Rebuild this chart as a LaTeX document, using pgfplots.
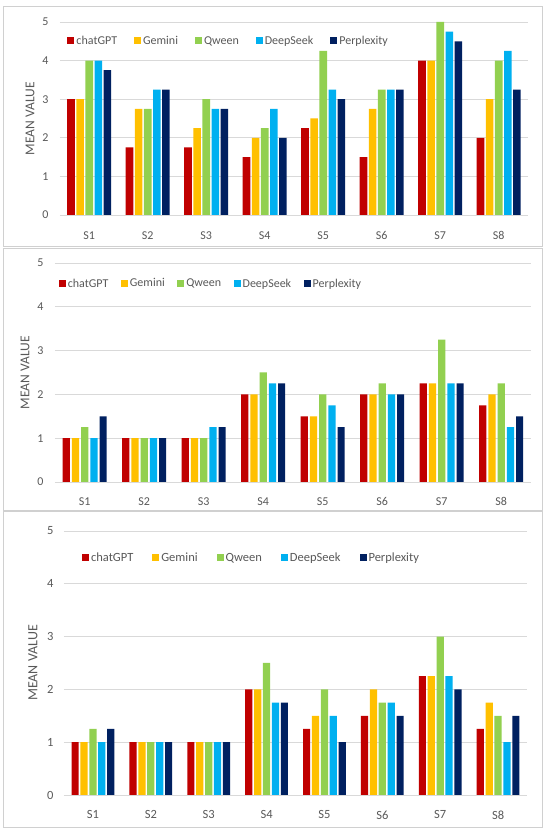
\documentclass[border=0pt]{standalone}
\usepackage{pgfplots}
\pgfplotsset{compat=1.18}
\usepackage{fontspec}
\setmainfont{Carlito}
\definecolor{cgpt}{HTML}{C00000}
\definecolor{cgem}{HTML}{FFC000}
\definecolor{cqw}{HTML}{92D050}
\definecolor{cds}{HTML}{00B0F0}
\definecolor{cpx}{HTML}{002060}
\definecolor{txt}{HTML}{595959}
\definecolor{grd}{HTML}{D9D9D9}
\definecolor{brd}{HTML}{D0D0D0}
\pgfplotsset{
  sqleg/.style={legend image code/.code={\fill[##1] (0pt,-3.5pt) rectangle (7pt,3.5pt);}},
  panel/.style={
    scale only axis,
    anchor=south west,
    xmin=-0.5, xmax=7.5, ymin=0, ymax=5,
    ytick={0,1,2,3,4,5},
    xtick={0,1,2,3,4,5,6,7},
    xticklabels={S1,S2,S3,S4,S5,S6,S7,S8},
    ymajorgrids,
    grid style={grd, line width=0.9pt},
    axis line style={draw=none},
    major tick style={draw=none},
    tick label style={text=txt, font=\fontsize{12}{14}\selectfont},
    /pgf/number format/assume math mode=true,
    ylabel={MEAN VALUE},
    ylabel style={text=txt, font=\fontsize{13.5}{15}\selectfont, anchor=center},
    legend columns=5,
    legend style={draw=none, fill=none, text=txt, font=\fontsize{12}{14}\selectfont,
      anchor=west, inner sep=0pt, outer sep=0pt},
    every axis plot post/.append style={sqleg},
  },
}
\begin{document}
\begin{tikzpicture}
\fill[white] (0,0) rectangle (550pt,836pt);
\useasboundingbox (0,0) rectangle (550pt,836pt);
\draw[brd, line width=1pt] (3pt,829pt) rectangle (542pt,589pt);
\draw[brd, line width=1pt] (3pt,587pt) rectangle (542pt,325pt);
\draw[brd, line width=1pt] (3pt,324pt) rectangle (542pt,8pt);

% Panel 1
\begin{axis}[panel, at={(60pt,621pt)}, width=468pt, height=193pt,
  ybar=1.5pt, bar width=7.6pt,
  xticklabel style={yshift=-9pt}, yticklabel style={xshift=-8pt},
  ylabel style={at={(axis description cs:-0.064,0.5)}},
  legend style={at={(rel axis cs:0.016,0.902)},
    /tikz/every even column/.append style={column sep=15pt}}]
\addplot[fill=cgpt, draw=none] coordinates {(0,3) (1,1.75) (2,1.75) (3,1.5) (4,2.25) (5,1.5) (6,4) (7,2)};
\addplot[fill=cgem, draw=none] coordinates {(0,3) (1,2.75) (2,2.25) (3,2) (4,2.5) (5,2.75) (6,4) (7,3)};
\addplot[fill=cqw, draw=none] coordinates {(0,4) (1,2.75) (2,3) (3,2.25) (4,4.25) (5,3.25) (6,5) (7,4)};
\addplot[fill=cds, draw=none] coordinates {(0,4) (1,3.25) (2,2.75) (3,2.75) (4,3.25) (5,3.25) (6,4.75) (7,4.25)};
\addplot[fill=cpx, draw=none] coordinates {(0,3.75) (1,3.25) (2,2.75) (3,2) (4,3) (5,3.25) (6,4.5) (7,3.25)};
\legend{chatGPT,Gemini,Qween,DeepSeek,Perplexity}
\end{axis}

% Panel 2
\begin{axis}[panel, at={(55pt,354pt)}, width=476pt, height=219pt,
  ybar=2pt, bar width=7.2pt,
  xticklabel style={yshift=-8pt}, yticklabel style={xshift=-8pt},
  ylabel style={at={(axis description cs:-0.063,0.5)}},
  legend style={at={(rel axis cs:0.008,0.906)},
    /tikz/every even column/.append style={column sep=10.5pt}}]
\addplot[fill=cgpt, draw=none] coordinates {(0,1) (1,1) (2,1) (3,2) (4,1.5) (5,2) (6,2.25) (7,1.75)};
\addplot[fill=cgem, draw=none] coordinates {(0,1) (1,1) (2,1) (3,2) (4,1.5) (5,2) (6,2.25) (7,2)};
\addplot[fill=cqw, draw=none] coordinates {(0,1.25) (1,1) (2,1) (3,2.5) (4,2) (5,2.25) (6,3.25) (7,2.25)};
\addplot[fill=cds, draw=none] coordinates {(0,1) (1,1) (2,1.25) (3,2.25) (4,1.75) (5,2) (6,2.25) (7,1.25)};
\addplot[fill=cpx, draw=none] coordinates {(0,1.5) (1,1) (2,1.25) (3,2.25) (4,1.25) (5,2) (6,2.25) (7,1.5)};
\legend{chatGPT,Gemini,Qween,DeepSeek,Perplexity}
\end{axis}

% Panel 3
\begin{axis}[panel, at={(64pt,41pt)}, width=463pt, height=264pt,
  ybar=1.7pt, bar width=7.2pt,
  tick label style={font=\fontsize{12.5}{14}\selectfont},
  xticklabel style={yshift=-8pt}, yticklabel style={xshift=-7pt},
  ylabel style={at={(axis description cs:-0.067,0.5)}, font=\fontsize{14}{16}\selectfont},
  legend style={at={(rel axis cs:0.039,0.898)}, font=\fontsize{12.5}{14}\selectfont,
    /tikz/every even column/.append style={column sep=17pt}}]
\addplot[fill=cgpt, draw=none] coordinates {(0,1) (1,1) (2,1) (3,2) (4,1.25) (5,1.5) (6,2.25) (7,1.25)};
\addplot[fill=cgem, draw=none] coordinates {(0,1) (1,1) (2,1) (3,2) (4,1.5) (5,2) (6,2.25) (7,1.75)};
\addplot[fill=cqw, draw=none] coordinates {(0,1.25) (1,1) (2,1) (3,2.5) (4,2) (5,1.75) (6,3) (7,1.5)};
\addplot[fill=cds, draw=none] coordinates {(0,1) (1,1) (2,1) (3,1.75) (4,1.5) (5,1.75) (6,2.25) (7,1)};
\addplot[fill=cpx, draw=none] coordinates {(0,1.25) (1,1) (2,1) (3,1.75) (4,1) (5,1.5) (6,2) (7,1.5)};
\legend{chatGPT,Gemini,Qween,DeepSeek,Perplexity}
\end{axis}
\end{tikzpicture}
\end{document}
